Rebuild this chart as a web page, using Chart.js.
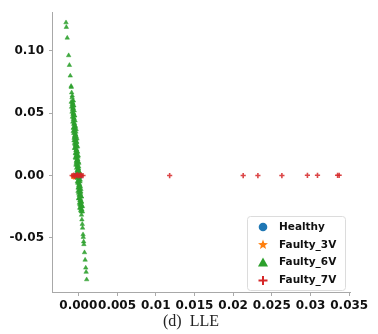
<!DOCTYPE html>
<html>
<head>
<meta charset="utf-8">
<script src="https://cdn.jsdelivr.net/npm/chart.js@4.4.1/dist/chart.umd.min.js"></script>
<style>
  html, body { margin: 0; padding: 0; background: #fff; }
  #wrap { width: 378px; height: 334px; position: relative; }
</style>
</head>
<body>
<div id="wrap"><canvas id="graphCanvas"></canvas></div>
<script>
// legend / series names
var seriesNames = ['Healthy', 'Faulty_3V', 'Faulty_6V', 'Faulty_7V'];
var seriesColors = ['#1f77b4', '#ff7f0e', '#2ca02c', '#d62728'];

// tick labels as printed on the figure
var xTickVals = [0, 0.005, 0.01, 0.015, 0.02, 0.025, 0.03, 0.035];
var xTickLabels = ['0.000', '0.005', '0.01', '0.015', '0.02', '0.025', '0.03', '0.035'];
var yTickVals = [-0.05, 0, 0.05, 0.10];
var yTickLabels = ['-0.05', '0.00', '0.05', '0.10'];

// Healthy (hidden under the others at the origin)
var healthyX = [0, -0.0002, 0.0002];
var healthyY = [0, 0.0003, -0.0003];

// Faulty_3V (only a hint of it shows at the origin)
var f3X = [-0.0006, -0.0004, -0.0002];
var f3Y = [-0.0008, -0.0006, -0.0004];

// Faulty_6V - the long green streak (sparse tails + loose points)
var f6X = [-0.00159, -0.00155, -0.00143, -0.00125, -0.00115, -0.00104, -0.00093, -0.00091,
  -0.00086, -0.00081, -0.00076, -0.00070, -0.00065, -0.00060, -0.00054, -0.00072,
  -0.00078, -0.00064, -0.00052, -0.00042, -0.00060, -0.00028, -0.00066, -0.00044,
  -0.00032, -0.00050, -0.00018, -0.00056, -0.00024, -0.00043, -0.00011, -0.00049,
  -0.00027, -0.00015, -0.00033, -0.00001, -0.00039, -0.00007, -0.00025, 0.00007,
  -0.00031, -0.00009, 0.00003, -0.00015, 0.00017, -0.00021, 0.00011, -0.00007,
  0.00025, -0.00013, 0.00008, 0.00020, 0.00002, 0.00034, -0.00004, 0.00028,
  0.00010, 0.00042, 0.00004, 0.00026, 0.00038, 0.00020, 0.00052, 0.00024,
  0.00046, 0.00038, 0.00041, 0.00046, 0.00051, 0.00055, 0.00061, 0.00064,
  0.00069, 0.00072, 0.00080, 0.00088, 0.00096, 0.00101, 0.00108];
var f6Y = [0.1227, 0.1190, 0.1104, 0.0963, 0.0885, 0.0800, 0.0717, 0.0709,
  0.0665, 0.0626, 0.0586, 0.0542, 0.0500, 0.0463, 0.0416, 0.0600, 0.0640,
  0.0560, 0.0480, 0.0400, 0.0385, 0.0370, 0.0355, 0.0340,
  0.0325, 0.0310, 0.0295, 0.0280, 0.0265, 0.0250, 0.0235, 0.0220,
  0.0205, 0.0190, 0.0175, 0.0160, 0.0145, 0.0130, 0.0115, 0.0100,
  0.0085, 0.0070, 0.0055, 0.0040, 0.0025, 0.0010, -0.0005, -0.0020,
  -0.0035, -0.0050, -0.0065, -0.0080, -0.0095, -0.0110, -0.0125, -0.0140,
  -0.0155, -0.0170, -0.0185, -0.0200, -0.0215, -0.0230, -0.0245, -0.0260,
  -0.0275, -0.0290, -0.0316, -0.0354, -0.0390, -0.0420, -0.0473, -0.0494,
  -0.0530, -0.0552, -0.0617, -0.0677, -0.0740, -0.0774, -0.0834];

// Faulty_6V - the solid core of the streak
var f6CoreX = [-0.00063, -0.00092, -0.00070, -0.00079, -0.00058, -0.00087, -0.00065, -0.00074,
  -0.00053, -0.00081, -0.00060, -0.00069, -0.00047, -0.00076, -0.00055, -0.00064,
  -0.00042, -0.00071, -0.00050, -0.00058, -0.00036, -0.00064, -0.00043, -0.00052,
  -0.00031, -0.00059, -0.00038, -0.00047, -0.00025, -0.00054, -0.00033, -0.00041,
  -0.00020, -0.00049, -0.00028, -0.00036, -0.00015, -0.00044, -0.00022, -0.00031,
  -0.00010, -0.00038, -0.00017, -0.00026, -0.00005, -0.00033, -0.00012, -0.00021,
  0.00001, -0.00028, -0.00007, -0.00015, 0.00006, -0.00023, -0.00002, -0.00010,
  0.00011, -0.00018, 0.00004, -0.00005, 0.00016, -0.00012, 0.00009, 0.00000,
  0.00022, -0.00007, 0.00014, 0.00005, 0.00027, -0.00002, 0.00019, 0.00011,
  0.00032, 0.00003, 0.00025, 0.00016, 0.00037, 0.00008, 0.00030, 0.00021,
  0.00042, 0.00014, 0.00035, 0.00026, 0.00048, 0.00019, 0.00040, 0.00031, 0.00053];
var f6CoreY = [0.060, 0.059, 0.058, 0.057, 0.056, 0.055, 0.054, 0.053,
  0.052, 0.051, 0.050, 0.049, 0.048, 0.047, 0.046, 0.045,
  0.044, 0.043, 0.042, 0.041, 0.039, 0.038, 0.037, 0.036,
  0.035, 0.034, 0.033, 0.032, 0.031, 0.030, 0.029, 0.028,
  0.027, 0.026, 0.025, 0.024, 0.023, 0.022, 0.021, 0.020,
  0.019, 0.018, 0.017, 0.016, 0.015, 0.014, 0.013, 0.012,
  0.011, 0.010, 0.009, 0.008, 0.007, 0.006, 0.005, 0.004,
  0.003, 0.002, 0.001, 0.000, -0.001, -0.002, -0.003, -0.004,
  -0.005, -0.006, -0.007, -0.008, -0.009, -0.010, -0.011, -0.012,
  -0.013, -0.014, -0.015, -0.016, -0.017, -0.018, -0.019, -0.020,
  -0.021, -0.022, -0.023, -0.024, -0.025, -0.026, -0.027, -0.028, -0.029];

// Faulty_7V - cluster at the origin plus a row along y = 0
var f7X = [-0.0008, -0.0006, -0.0004, -0.0002, 0.0000, 0.0002, 0.0004, 0.0006,
  -0.0005, -0.0001, 0.0003,
  0.0118, 0.0213, 0.0232, 0.0263, 0.0296, 0.0309, 0.0335, 0.0337];
var f7Y = [0.0000, 0.0003, -0.0002, 0.0004, -0.0003, 0.0002, -0.0001, 0.0000,
  -0.0005, 0.0005, 0.0004,
  0.0000, 0.0000, 0.0000, 0.0000, 0.0002, 0.0002, 0.0002, 0.0002];

function pairs(xs, ys) {
  var out = [];
  for (var ii = 0; ii < xs.length; ii++) out.push({x: xs[ii], y: ys[ii]});
  return out;
}

// legend box drawn in the lower right of the plot
var boxLegend = {
  id: 'boxLegend',
  afterDraw: function(chart) {
    var ctx = chart.ctx;
    var x0 = 247, y0 = 216, w = 98, h = 74;
    ctx.save();
    ctx.beginPath();
    ctx.roundRect(x0 + 0.5, y0 + 0.5, w, h, 3);
    ctx.fillStyle = 'rgba(255,255,255,0.85)';
    ctx.fill();
    ctx.strokeStyle = '#dcdcdc';
    ctx.lineWidth = 1;
    ctx.stroke();
    for (var ii = 0; ii < seriesNames.length; ii++) {
      var cy = 227 + ii * 17.8, cx = 263;
      ctx.fillStyle = seriesColors[ii];
      ctx.strokeStyle = seriesColors[ii];
      ctx.beginPath();
      if (ii == 0) {
        ctx.arc(cx, cy, 4.3, 0, Math.PI * 2);
        ctx.fill();
      } else if (ii == 1) {
        for (var k = 0; k < 10; k++) {
          var r = (k % 2 == 0) ? 5.2 : 2.2;
          var a = -Math.PI / 2 + k * Math.PI / 5;
          var px = cx + Math.cos(a) * r, py = cy + Math.sin(a) * r;
          if (k == 0) ctx.moveTo(px, py); else ctx.lineTo(px, py);
        }
        ctx.closePath();
        ctx.fill();
      } else if (ii == 2) {
        ctx.moveTo(cx, cy - 5);
        ctx.lineTo(cx + 5, cy + 4);
        ctx.lineTo(cx - 5, cy + 4);
        ctx.closePath();
        ctx.fill();
      } else {
        ctx.lineWidth = 2;
        ctx.moveTo(cx - 4.5, cy); ctx.lineTo(cx + 4.5, cy);
        ctx.moveTo(cx, cy - 4.5); ctx.lineTo(cx, cy + 4.5);
        ctx.stroke();
      }
      ctx.fillStyle = '#111';
      ctx.font = 'bold 10.5px "DejaVu Sans"';
      ctx.textBaseline = 'middle';
      ctx.textAlign = 'left';
      ctx.fillText(seriesNames[ii], 279, cy);
    }
    // caption under the axis
    ctx.fillStyle = '#222';
    ctx.font = '16px "Liberation Serif"';
    ctx.textAlign = 'center';
    ctx.textBaseline = 'middle';
    ctx.fillText('(d)  LLE', 191, 322);
    ctx.restore();
  }
};

var graphTarget = document.getElementById('graphCanvas');
var tickFont = {family: 'DejaVu Sans', size: 12, weight: 'bold'};

var chart = new Chart(graphTarget, {
  type: 'scatter',
  data: {
    datasets: [
      {label: seriesNames[0], data: pairs(healthyX, healthyY), order: 4,
       pointStyle: 'circle', pointRadius: 3, backgroundColor: seriesColors[0], borderColor: seriesColors[0], borderWidth: 0},
      {label: seriesNames[1], data: pairs(f3X, f3Y), order: 3,
       pointStyle: 'star', pointRadius: 3, backgroundColor: seriesColors[1], borderColor: seriesColors[1], borderWidth: 1.5},
      {label: seriesNames[2], data: pairs(f6X, f6Y).concat(pairs(f6CoreX, f6CoreY)), order: 2,
       pointStyle: 'triangle', pointRadius: 2.6, backgroundColor: 'rgba(44,160,44,0.9)', borderColor: 'rgba(44,160,44,0.9)', borderWidth: 0.5},
      {label: seriesNames[3], data: pairs(f7X, f7Y), order: 1,
       pointStyle: 'cross', pointRadius: 2.6, backgroundColor: seriesColors[3], borderColor: 'rgba(214,39,40,0.85)', borderWidth: 1.6}
    ]
  },
  options: {
    responsive: true,
    maintainAspectRatio: false,
    animation: false,
    layout: {padding: {top: 6, right: 28, left: 0, bottom: 0}},
    plugins: {
      legend: {display: false},
      tooltip: {enabled: false}
    },
    scales: {
      x: {
        type: 'linear',
        min: -0.0034,
        max: 0.0351,
        afterFit: function(scale) { scale.height = 42; },
        afterBuildTicks: function(scale) {
          scale.ticks = xTickVals.map(function(v) { return {value: v}; });
        },
        ticks: {
          color: '#111', font: tickFont, padding: 3, maxRotation: 0, autoSkip: false,
          callback: function(value) {
            var i = xTickVals.indexOf(value);
            return i >= 0 ? xTickLabels[i] : '';
          }
        },
        grid: {drawOnChartArea: false, drawTicks: true, tickLength: 4, color: '#aaaaaa'},
        border: {display: true, color: '#a8a8a8', width: 1}
      },
      y: {
        type: 'linear',
        min: -0.0934,
        max: 0.131,
        afterFit: function(scale) { scale.width = 52; },
        afterBuildTicks: function(scale) {
          scale.ticks = yTickVals.map(function(v) { return {value: v}; });
        },
        ticks: {
          color: '#111', font: tickFont, padding: 5, autoSkip: false,
          callback: function(value) {
            var i = yTickVals.indexOf(value);
            return i >= 0 ? yTickLabels[i] : '';
          }
        },
        grid: {drawOnChartArea: false, drawTicks: true, tickLength: 3, color: '#aaaaaa'},
        border: {display: true, color: '#a8a8a8', width: 1}
      }
    }
  },
  plugins: [boxLegend]
});
</script>
</body>
</html>
